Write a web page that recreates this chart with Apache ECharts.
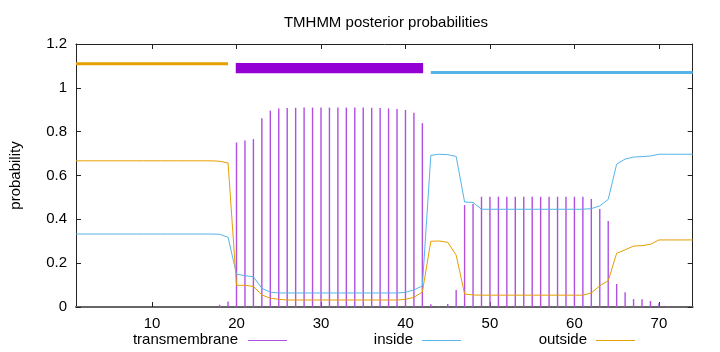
<!DOCTYPE html>
<html><head><meta charset="utf-8">
<script src="https://cdn.jsdelivr.net/npm/echarts@6/dist/echarts.min.js"></script>
<style>html,body{margin:0;padding:0;background:#fff}#c{width:720px;height:352px}</style>
</head><body><div id="c"></div>
<script>
// ---- data ----
const positions = [1,2,3,4,5,6,7,8,9,10,11,12,13,14,15,16,17,18,19,20,21,22,23,24,25,26,27,28,29,30,31,32,33,34,35,36,37,38,39,40,41,42,43,44,45,46,47,48,49,50,51,52,53,54,55,56,57,58,59,60,61,62,63,64,65,66,67,68,69,70,71,72,73,74];
const transmembrane = [0,0,0,0,0,0,0,0,0,0,0,0,0,0,0,0,0,0.010,0.025,
  0.751,0.760,0.766,0.861,0.896,0.906,0.908,0.909,0.910,0.910,0.910,0.910,0.910,0.910,0.910,0.910,0.909,0.908,0.906,0.903,0.899,0.886,0.839,
  0.012,0.003,0.014,0.078,0.465,0.470,0.503,0.503,0.503,0.503,0.503,0.503,0.503,0.503,0.503,0.503,0.503,0.503,0.503,0.493,0.447,0.392,0.105,0.067,0.036,0.035,0.027,0.017,0.004,0,0,0];
const inside = [0.333,0.333,0.333,0.333,0.333,0.333,0.333,0.333,0.333,0.333,0.333,0.333,0.333,0.333,0.333,0.333,0.333,0.332,0.318,
  0.150,0.143,0.138,0.085,0.068,0.064,0.064,0.064,0.064,0.064,0.064,0.064,0.064,0.064,0.064,0.064,0.064,0.064,0.064,0.064,0.067,0.078,0.096,
  0.692,0.697,0.695,0.687,0.479,0.477,0.446,0.446,0.446,0.446,0.446,0.446,0.446,0.446,0.446,0.446,0.446,0.446,0.446,0.449,0.461,0.491,0.652,0.675,0.684,0.686,0.689,0.697,0.697,0.697,0.697,0.697];
const outside = [0.667,0.667,0.667,0.667,0.667,0.667,0.667,0.667,0.667,0.667,0.667,0.667,0.667,0.667,0.667,0.667,0.667,0.665,0.657,
  0.099,0.099,0.094,0.055,0.040,0.035,0.032,0.032,0.032,0.032,0.032,0.032,0.032,0.032,0.032,0.032,0.032,0.032,0.032,0.032,0.035,0.044,0.068,
  0.300,0.301,0.295,0.237,0.059,0.055,0.054,0.054,0.054,0.054,0.054,0.054,0.054,0.054,0.054,0.054,0.054,0.054,0.054,0.064,0.097,0.120,0.245,0.261,0.278,0.280,0.286,0.306,0.306,0.306,0.306,0.306];
// predicted topology segments
const topoType  = ['outside', 'transmembrane', 'inside'];
const topoStart = [1, 20, 43];
const topoEnd   = [19, 42, 74];
const topoLevel = [1.11, 1.09, 1.07];
// ticks
const xTicks = [10, 20, 30, 40, 50, 60, 70];
const yTicks = [0, 0.2, 0.4, 0.6, 0.8, 1, 1.2];

// ---- styles ----
const C = { transmembrane: '#9400d3', inside: '#56b4e9', outside: '#e69f00' };
const FONT = 'Liberation Sans, Arial, sans-serif';

const chart = echarts.init(document.getElementById('c'), null, { renderer: 'canvas' });
const pair = a => positions.map((x, i) => [x, a[i]]);
const topoData = topoType.map((t, i) => [topoStart[i], topoEnd[i], topoLevel[i], i]);

const axisCommon = {
  type: 'value', min: 1, max: 74,
  splitLine: { show: false },
  axisLine: { show: true, onZero: false, lineStyle: { color: '#222', width: 1 } },
  axisTick: { show: true, inside: true, length: 5, customValues: xTicks, lineStyle: { color: '#222' } },
};
const yCommon = {
  type: 'value', min: yTicks[0], max: yTicks[yTicks.length - 1], interval: 0.2,
  splitLine: { show: false },
  axisLine: { show: true, lineStyle: { color: '#222', width: 1 } },
  axisTick: { show: true, inside: true, length: 5, lineStyle: { color: '#222' } },
};

chart.setOption({
  animation: false,
  backgroundColor: '#fff',
  title: {
    text: 'TMHMM posterior probabilities', left: 381, top: 10, textAlign: 'center',
    textStyle: { fontFamily: FONT, fontSize: 15, fontWeight: 'normal', color: '#000' }
  },
  grid: { left: 73.5, right: 27.3, top: 44, bottom: 45 },
  xAxis: [
    Object.assign({}, axisCommon, {
      position: 'bottom',
      axisLine: { show: true, onZero: false, lineStyle: { color: '#666', width: 2 } },
      axisLabel: { show: true, customValues: xTicks, margin: 9, color: '#000', fontFamily: FONT, fontSize: 15 }
    }),
    Object.assign({}, axisCommon, { position: 'top', axisLabel: { show: false } })
  ],
  yAxis: [
    Object.assign({}, yCommon, {
      position: 'left',
      name: 'probability', nameLocation: 'middle', nameGap: 53, nameRotate: 90,
      nameTextStyle: { fontFamily: FONT, fontSize: 15, color: '#000' },
      axisLabel: { show: true, margin: 9, color: '#000', fontFamily: FONT, fontSize: 15,
        formatter: v => String(Math.round(v * 10) / 10) }
    }),
    Object.assign({}, yCommon, { position: 'right', axisLabel: { show: false } })
  ],
  series: [
    {
      name: 'transmembrane', type: 'bar', xAxisIndex: 0, yAxisIndex: 0,
      data: pair(transmembrane), barWidth: 1.4,
      itemStyle: { color: '#b04fe0' }, silent: true
    },
    {
      name: 'inside', type: 'line', data: pair(inside), symbol: 'none',
      lineStyle: { color: C.inside, width: 1 }, silent: true
    },
    {
      name: 'outside', type: 'line', data: pair(outside), symbol: 'none',
      lineStyle: { color: C.outside, width: 1 }, silent: true
    },
    {
      name: 'topology', type: 'custom', data: topoData, silent: true,
      renderItem: (params, api) => {
        const s = api.value(0), e = api.value(1), lvl = api.value(2), k = api.value(3);
        const t = topoType[k];
        if (t === 'transmembrane') {
          const p1 = api.coord([s, topoLevel[0]]);
          const p2 = api.coord([e, topoLevel[2]]);
          return { type: 'rect', shape: { x: p1[0], y: p1[1], width: p2[0] - p1[0], height: p2[1] - p1[1] },
            style: { fill: C.transmembrane, stroke: C.transmembrane, lineWidth: 1.5 } };
        }
        const a = api.coord([s, lvl]), b = api.coord([e, lvl]);
        return { type: 'line', shape: { x1: a[0], y1: a[1], x2: b[0], y2: b[1] },
          style: { stroke: C[t], lineWidth: 3 } };
      }
    }
  ],
  graphic: [
    { type: 'text', x: 238, y: 340, style: { text: 'transmembrane', align: 'right', verticalAlign: 'middle', font: '15px ' + FONT, fill: '#000' } },
    { type: 'line', shape: { x1: 248, y1: 340.5, x2: 287, y2: 340.5 }, style: { stroke: '#b04fe0', lineWidth: 1 } },
    { type: 'text', x: 413, y: 340, style: { text: 'inside', align: 'right', verticalAlign: 'middle', font: '15px ' + FONT, fill: '#000' } },
    { type: 'line', shape: { x1: 422, y1: 340.5, x2: 461, y2: 340.5 }, style: { stroke: C.inside, lineWidth: 1 } },
    { type: 'text', x: 587, y: 340, style: { text: 'outside', align: 'right', verticalAlign: 'middle', font: '15px ' + FONT, fill: '#000' } },
    { type: 'line', shape: { x1: 596, y1: 340.5, x2: 635, y2: 340.5 }, style: { stroke: C.outside, lineWidth: 1 } }
  ]
});
</script></body></html>
